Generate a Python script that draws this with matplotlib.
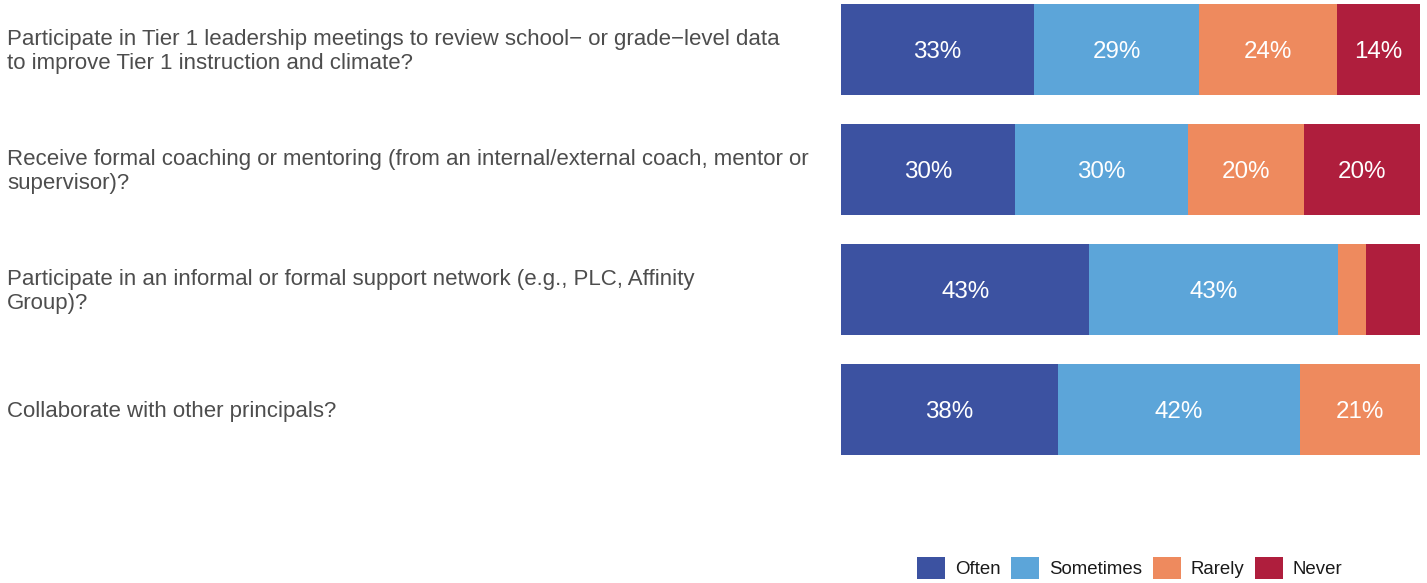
import matplotlib
matplotlib.use("Agg")
import matplotlib.pyplot as plt
from matplotlib.patches import Patch
from matplotlib.transforms import ScaledTranslation
import numpy as np

plt.rcParams['font.family'] = ['Liberation Sans', 'DejaVu Sans']

questions = [
    "Participate in Tier 1 leadership meetings to review school\u2212 or grade\u2212level data\nto improve Tier 1 instruction and climate?",
    "Receive formal coaching or mentoring (from an internal/external coach, mentor or\nsupervisor)?",
    "Participate in an informal or formal support network (e.g., PLC, Affinity\nGroup)?",
    "Collaborate with other principals?",
]
categories = ["Often", "Sometimes", "Rarely", "Never"]
often = [33.3, 30.0, 42.9, 37.5]
sometimes = [28.6, 30.0, 42.9, 41.7]
rarely = [23.8, 20.0, 4.8, 20.8]
never = [14.3, 20.0, 9.5, 0.0]
colors = ["#3C52A1", "#5CA5D9", "#EE8A5E", "#AF1E3D"]

W, H = 1427, 583
fig = plt.figure(figsize=(W / 100, H / 100), dpi=100)
ax = fig.add_axes([841 / W, 1 - 455 / H, (1420 - 841) / W, (455 - 4) / H])

series = [often, sometimes, rarely, never]
y = np.arange(len(questions))
left = np.zeros(len(questions))
bar_h = 0.76
label_tr = ax.transData + ScaledTranslation(0, -2.5 / 100, fig.dpi_scale_trans)
for vals, col in zip(series, colors):
    vals = np.array(vals)
    ax.barh(y, vals, left=left, height=bar_h, color=col, edgecolor="none")
    for yi, (l, v) in enumerate(zip(left, vals)):
        if v >= 10:
            ax.text(l + v / 2, yi, f"{v:.0f}%", ha="center", va="center",
                    color="white", fontsize=17.4, transform=label_tr)
    left += vals

ax.set_xlim(0, 100)
ax.set_ylim(len(questions) - 1 + bar_h / 2, -bar_h / 2)
ax.axis("off")

q_tr = ax.transData + ScaledTranslation(0, -2 / 100, fig.dpi_scale_trans)
for yi, q in enumerate(questions):
    ax.text(-841 / (1420 - 841) * 100 + 7 / (1420 - 841) * 100, yi, q,
            ha="left", va="center", color="#4D4D4D", fontsize=16.05,
            linespacing=1.18, clip_on=False, transform=q_tr)

handles = [Patch(facecolor=c, edgecolor="none") for c in colors]
fig.legend(handles, categories, loc="center left",
           bbox_to_anchor=(917 / W, 1 - 568 / H), ncol=4, frameon=False,
           fontsize=13.4, handlelength=1.5, handleheight=1.5,
           handletextpad=0.53, columnspacing=0.58, borderpad=0,
           borderaxespad=0, labelcolor="#1A1A1A")

fig.savefig("out.png", dpi=100)
